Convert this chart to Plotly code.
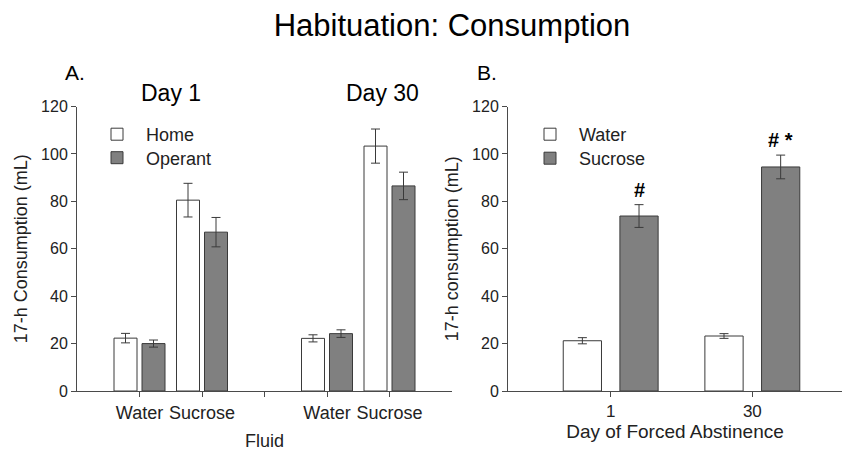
import plotly.graph_objects as go

# ---------------- Data ----------------
# Panel A
days_A = ["Day 1", "Day 30"]
fluids_A = ["Water", "Sucrose"]
home_mean = [22.3, 80.5, 22.2, 103.3]      # Day1 Water, Day1 Sucrose, Day30 Water, Day30 Sucrose
home_err = [2.0, 7.1, 1.5, 7.2]
operant_mean = [20.0, 67.0, 24.2, 86.5]
operant_err = [1.5, 6.2, 1.6, 5.8]

# Panel B
days_B = ["1", "30"]
water_mean = [21.2, 23.2]
water_err = [1.3, 1.0]
sucrose_mean = [73.8, 94.5]
sucrose_err = [4.8, 5.0]
sig_labels = ["#", "# *"]

FONT = "Liberation Sans, Arial, sans-serif"
EDGE = "#3a3a3a"
GRAY = "#808080"
AX = "#4a4a4a"

# category positions for panel A: groups separated by an empty slot
pos_A = [d * 3 + f + 1 for d in range(len(days_A)) for f in range(len(fluids_A))]
sep_A = [d * 3 for d in range(1, len(days_A))]
labels_A = [f for _ in days_A for f in fluids_A]
pos_B = [i + 1 for i in range(len(days_B))]

fig = go.Figure()

wA = 0.368
gA = 0.04
fig.add_trace(go.Bar(
    x=pos_A, y=home_mean, width=wA, offset=-wA - gA,
    marker=dict(color="white", line=dict(color=EDGE, width=1)),
    error_y=dict(type="data", array=home_err, color=EDGE, thickness=1, width=4.5),
    name="Home", legend="legend", xaxis="x", yaxis="y"))
fig.add_trace(go.Bar(
    x=pos_A, y=operant_mean, width=wA, offset=gA,
    marker=dict(color=GRAY, line=dict(color=EDGE, width=1)),
    error_y=dict(type="data", array=operant_err, color=EDGE, thickness=1, width=4.5),
    name="Operant", legend="legend2", xaxis="x", yaxis="y"))

wB = 0.27
gB = 0.065
fig.add_trace(go.Bar(
    x=pos_B, y=water_mean, width=wB, offset=-wB - gB,
    marker=dict(color="white", line=dict(color=EDGE, width=1)),
    error_y=dict(type="data", array=water_err, color=EDGE, thickness=1, width=4.5),
    name="Water", legend="legend3", xaxis="x2", yaxis="y2"))
fig.add_trace(go.Bar(
    x=pos_B, y=sucrose_mean, width=wB, offset=gB,
    marker=dict(color=GRAY, line=dict(color=EDGE, width=1)),
    error_y=dict(type="data", array=sucrose_err, color=EDGE, thickness=1, width=4.5),
    name="Sucrose", legend="legend4", xaxis="x2", yaxis="y2"))

annotations = []
# significance markers above sucrose bars
for p, m, e, lab in zip(pos_B, sucrose_mean, sucrose_err, sig_labels):
    annotations.append(dict(
        x=p + gB + wB / 2, y=m + e, xref="x2", yref="y2", text="<b>" + lab + "</b>",
        showarrow=False, yanchor="bottom", yshift=2,
        font=dict(family=FONT, size=20, color="black")))

# day headers for panel A
day_x = [1.5, 4.88]
for dx, d in zip(day_x, days_A):
    annotations.append(dict(
        x=dx, y=1 - 93 / 451, xref="x", yref="paper", text=d, showarrow=False,
        yanchor="middle", font=dict(family=FONT, size=23, color="black")))

annotations.append(dict(x=63 / 842, y=1 - 72 / 451, xref="paper", yref="paper", text="A.",
                        showarrow=False, yanchor="middle",
                        font=dict(family=FONT, size=21, color="black")))
annotations.append(dict(x=487 / 842, y=1 - 72 / 451, xref="paper", yref="paper", text="B.",
                        showarrow=False, yanchor="middle",
                        font=dict(family=FONT, size=21, color="black")))

axis_common = dict(showgrid=False, zeroline=False, showline=True, linecolor=AX, linewidth=1,
                   ticks="outside", ticklen=5, tickcolor=AX, automargin=False,
                   tickfont=dict(family=FONT, size=16, color="#222"))

legend_common = dict(xanchor="left", yanchor="top", bgcolor="rgba(0,0,0,0)",
                     font=dict(family=FONT, size=18, color="#222"), itemwidth=48)

fig.update_layout(
    width=842, height=451,
    margin=dict(l=0, r=0, t=0, b=0),
    paper_bgcolor="white", plot_bgcolor="white",
    barmode="overlay",
    showlegend=True,
    font=dict(family=FONT, color="#222"),
    title=dict(text="Habituation: Consumption", x=452 / 842, xanchor="center",
               y=1 - 25 / 451, yanchor="middle",
               font=dict(family=FONT, size=31, color="black")),
    xaxis=dict(axis_common, domain=[77 / 842, 452 / 842], range=[0, 6],
               tickvals=pos_A + sep_A, ticktext=labels_A + [""] * len(sep_A),
               tickfont=dict(family=FONT, size=18, color="#222"),
               title=dict(text="Fluid", font=dict(family=FONT, size=18, color="#222"), standoff=13)),
    yaxis=dict(axis_common, domain=[1 - 391 / 451, 1 - 106.5 / 451], range=[0, 120],
               tickvals=[0, 20, 40, 60, 80, 100, 120],
               title=dict(text="17-h Consumption (mL)", font=dict(family=FONT, size=18, color="#222"),
                          standoff=8)),
    xaxis2=dict(axis_common, domain=[508 / 842, 1.0], range=[0.275, 2.633],
                tickvals=pos_B, ticktext=days_B, anchor="y2",
                tickfont=dict(family=FONT, size=17, color="#222"),
                title=dict(text="Day of Forced Abstinence", font=dict(family=FONT, size=19, color="#222"),
                           standoff=0)),
    yaxis2=dict(axis_common, domain=[1 - 391 / 451, 1 - 106.5 / 451], range=[0, 120],
                tickvals=[0, 20, 40, 60, 80, 100, 120], anchor="x2",
                title=dict(text="17-h consumption (mL)", font=dict(family=FONT, size=18, color="#222"),
                           standoff=8)),
    legend=dict(legend_common, x=88 / 842, y=1 - 116 / 451),
    legend2=dict(legend_common, x=88 / 842, y=1 - 139.5 / 451),
    legend3=dict(legend_common, x=521 / 842, y=1 - 116 / 451),
    legend4=dict(legend_common, x=521 / 842, y=1 - 140 / 451),
    annotations=annotations,
)

fig.write_html("out.html", config={"displayModeBar": False},
               post_script="document.body.style.margin='0px';")
